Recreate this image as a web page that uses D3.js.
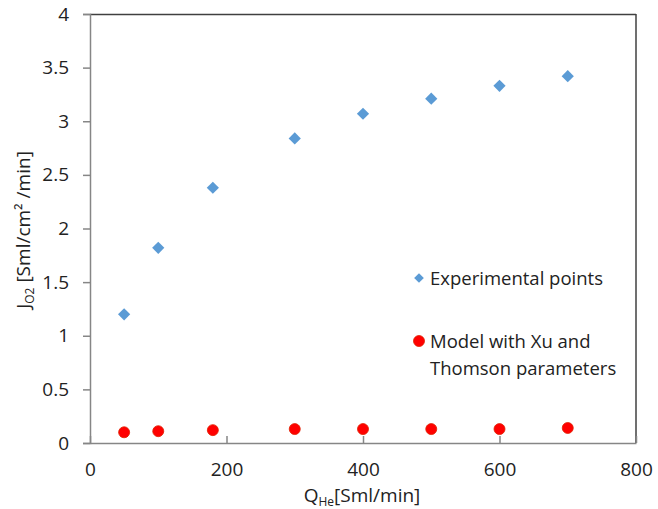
<!DOCTYPE html>
<html>
<head>
<meta charset="utf-8">
<script src="https://cdn.jsdelivr.net/npm/d3@7"></script>
<style>
  body { margin: 0; background: #fff; }
  text { font-family: "Open Sans", sans-serif; fill: #222; }
</style>
</head>
<body>
<div id="chart"></div>
<script>
  const flowRates = [50, 100, 180, 300, 400, 500, 600, 700];
  const experimental = [1.2, 1.82, 2.38, 2.84, 3.07, 3.21, 3.33, 3.42];
  const model = [0.1, 0.11, 0.12, 0.13, 0.13, 0.13, 0.13, 0.14];
  const xTicks = [0, 200, 400, 600, 800];
  const yTicks = [0, 0.5, 1, 1.5, 2, 2.5, 3, 3.5, 4];

  const width = 658;
  const height = 509;
  const margin = { top: 14, left: 90, right: 22, bottom: 66 };
  const plotW = width - margin.left - margin.right;
  const plotH = height - margin.top - margin.bottom;

  const svg = d3.select("#chart").append("svg")
    .attr("width", width)
    .attr("height", height);

  const x = d3.scaleLinear().domain([0, 800]).range([0, plotW]);
  const y = d3.scaleLinear().domain([0, 4]).range([plotH, 0]);

  const graph = svg.append("g")
    .attr("transform", `translate(${margin.left}, ${margin.top})`);

  // plot border (top/right darker)
  graph.append("line")
    .attr("x1", 0).attr("x2", plotW).attr("y1", 0.5).attr("y2", 0.5)
    .attr("stroke", "#404040").attr("stroke-width", 1.5);
  graph.append("line")
    .attr("x1", plotW).attr("x2", plotW).attr("y1", 0).attr("y2", plotH)
    .attr("stroke", "#404040").attr("stroke-width", 1.5);

  const yAxis = graph.append("g")
    .call(d3.axisLeft(y).tickValues(yTicks).tickSize(7).tickPadding(14)
      .tickFormat(d3.format("")));
  yAxis.select(".domain").attr("stroke", "#868686").attr("stroke-width", 1.5);
  yAxis.selectAll(".tick line").attr("stroke", "#868686").attr("stroke-width", 1.5);
  yAxis.selectAll(".tick text").style("font-size", "19px").attr("fill", "#222");

  const xAxis = graph.append("g")
    .attr("transform", `translate(0, ${plotH})`)
    .call(d3.axisBottom(x).tickValues(xTicks).tickSizeInner(-7).tickSizeOuter(0)
      .tickPadding(20));
  xAxis.select(".domain").attr("stroke", "#868686").attr("stroke-width", 1.5);
  xAxis.selectAll(".tick line").attr("stroke", "#868686").attr("stroke-width", 1.5);
  xAxis.selectAll(".tick text").style("font-size", "19px").attr("fill", "#222");

  // experimental points (diamonds)
  const diamond = d3.symbol().type(d3.symbolDiamond2).size(95);
  graph.append("g")
    .selectAll("path")
    .data(flowRates)
    .enter()
    .append("path")
    .attr("d", diamond)
    .attr("transform", (d, i) => `translate(${x(d)}, ${y(experimental[i])})`)
    .attr("fill", "#5B9BD5");

  // model points
  graph.append("g")
    .selectAll("circle")
    .data(flowRates)
    .enter()
    .append("circle")
    .attr("cx", d => x(d))
    .attr("cy", (d, i) => y(model[i]))
    .attr("r", 5.5)
    .attr("fill", "#FF0000")
    .attr("stroke", "#E02000")
    .attr("stroke-width", 0.8);

  // axis titles
  const yTitle = svg.append("text")
    .attr("transform", "translate(30, 230) rotate(-90)")
    .attr("text-anchor", "middle")
    .style("font-size", "19px");
  yTitle.append("tspan").text("J");
  yTitle.append("tspan").text("O2").style("font-size", "12px").attr("dy", 4);
  yTitle.append("tspan").text(" [Sml/cm² /min]").attr("dy", -4);

  const xTitle = svg.append("text")
    .attr("x", 362)
    .attr("y", 502)
    .attr("text-anchor", "middle")
    .style("font-size", "19px");
  xTitle.append("tspan").text("Q");
  xTitle.append("tspan").text("He").style("font-size", "12px").attr("dy", 4);
  xTitle.append("tspan").text("[Sml/min]").attr("dy", -4);

  // legend
  const legend = svg.append("g");
  legend.append("path")
    .attr("d", d3.symbol().type(d3.symbolDiamond2).size(60))
    .attr("transform", "translate(419, 278)")
    .attr("fill", "#5B9BD5");
  legend.append("text")
    .attr("x", 430).attr("y", 284.5)
    .style("font-size", "18.5px")
    .text("Experimental points");
  legend.append("circle")
    .attr("cx", 419).attr("cy", 341).attr("r", 5.5)
    .attr("fill", "#FF0000").attr("stroke", "#E02000").attr("stroke-width", 0.8);
  legend.append("text")
    .attr("x", 430).attr("y", 347.5)
    .style("font-size", "18.5px")
    .text("Model with Xu and");
  legend.append("text")
    .attr("x", 430).attr("y", 374.5)
    .style("font-size", "18.5px")
    .text("Thomson parameters");
</script>
</body>
</html>
